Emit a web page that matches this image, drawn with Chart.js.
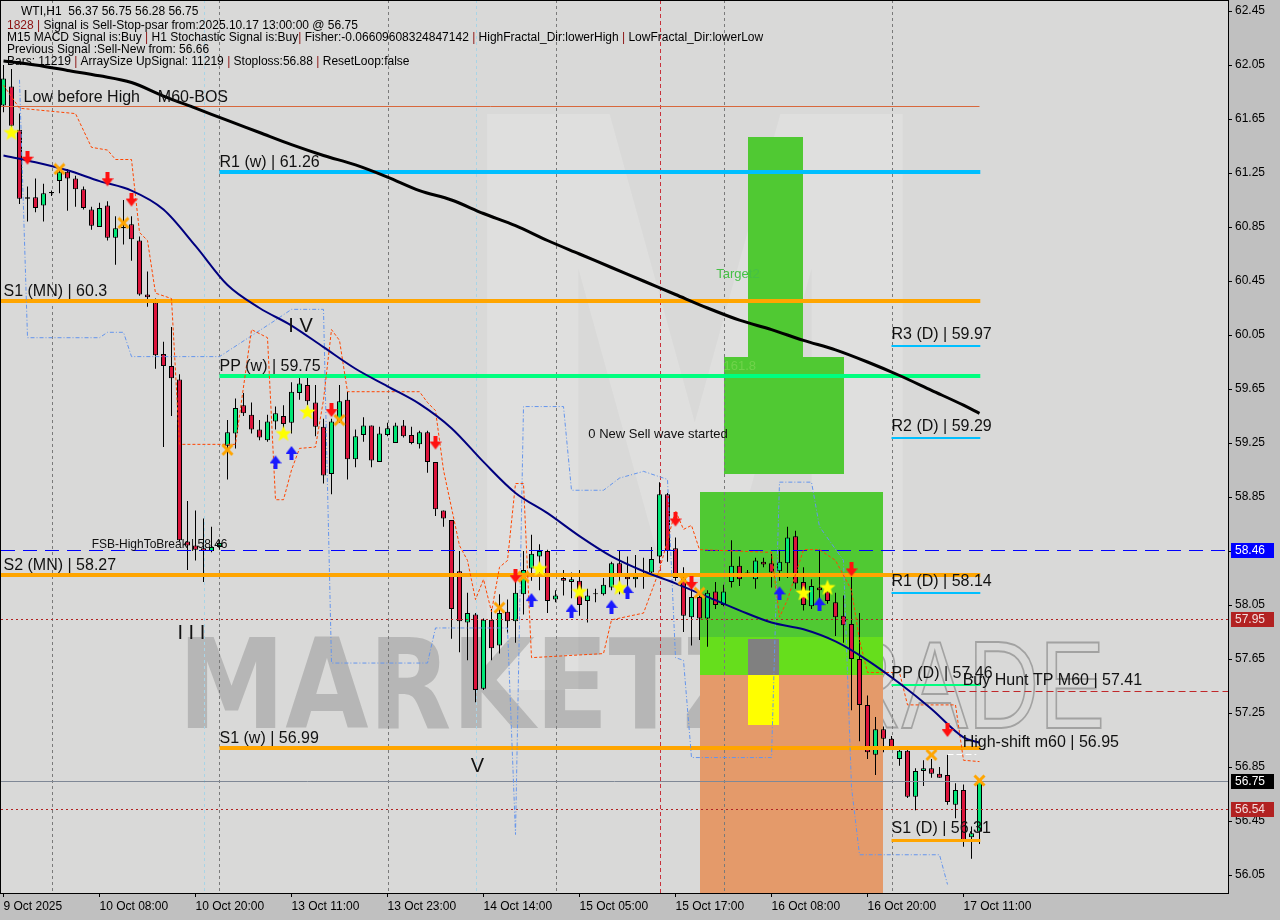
<!DOCTYPE html>
<html>
<head>
<meta charset="utf-8">
<script src="https://cdn.jsdelivr.net/npm/chart.js@4.4.1/dist/chart.umd.min.js"></script>
<style>
html, body { margin: 0; padding: 0; background: #c0c0c0; }
canvas { display: block; }
</style>
</head>
<body>
<canvas id="wti" width="1280" height="920"></canvas>
<script>
// time axis: one label every 12 H1 bars
var labelBars = [0, 12, 24, 36, 48, 60, 72, 84, 96, 108, 120];
var timeLabels = ['9 Oct 2025', '10 Oct 08:00', '10 Oct 20:00', '13 Oct 11:00', '13 Oct 23:00', '14 Oct 14:00',
  '15 Oct 05:00', '15 Oct 17:00', '16 Oct 08:00', '16 Oct 20:00', '17 Oct 11:00'];
var priceTicks = [62.45, 62.05, 61.65, 61.25, 60.85, 60.45, 60.05, 59.65, 59.25, 58.85, 58.45, 58.05, 57.65, 57.25, 56.85, 56.45, 56.05];

// WTI H1 candles (bar 0 = left edge, bar 122 = 17 Oct 13:00)
var opens = [61.75, 61.89, 61.57, 61.07, 61.07, 61.01, 61.10, 61.19, 61.26, 61.21,
  61.13, 60.98, 60.85, 61.01, 60.77, 60.84, 60.87, 60.75, 60.35, 60.29,
  59.91, 59.82, 59.72, 58.52, 58.49, 58.47, 58.45, 58.48, 59.23, 59.32,
  59.53, 59.46, 59.35, 59.27, 59.41, 59.45, 59.40, 59.62, 59.68, 59.55,
  59.37, 59.02, 59.41, 59.57, 59.13, 59.31, 59.38, 59.11, 59.31, 59.25,
  59.38, 59.31, 59.24, 59.33, 59.11, 58.75, 58.68, 58.30, 57.92, 57.98,
  57.43, 57.94, 57.75, 58.00, 57.93, 58.13, 58.32, 58.41, 58.45, 58.09,
  58.25, 58.22, 58.23, 58.08, 58.13, 58.13, 58.18, 58.36, 58.26, 58.24,
  58.27, 58.29, 58.41, 58.87, 58.47, 58.25, 57.96, 58.11, 57.95, 58.15,
  58.05, 58.22, 58.34, 58.28, 58.24, 58.37, 58.36, 58.30, 58.36, 58.56,
  58.22, 58.04, 58.18, 58.15, 58.07, 57.97, 57.91, 57.65, 57.31, 56.94,
  57.13, 57.06, 56.91, 56.97, 56.63, 56.82, 56.84, 56.80, 56.79, 56.57,
  56.68, 56.33, 56.37];
var highs = [62.05, 62.02, 61.69, 61.15, 61.21, 61.17, 61.12, 61.28, 61.28, 61.23,
  61.15, 61.00, 61.03, 61.04, 60.93, 61.05, 60.93, 60.78, 60.52, 60.32,
  60.00, 60.11, 59.76, 58.82, 58.75, 58.69, 58.63, 58.53, 59.42, 59.58,
  59.62, 59.55, 59.42, 59.46, 59.52, 59.53, 59.70, 59.74, 59.74, 59.68,
  59.43, 59.43, 59.68, 59.63, 59.35, 59.44, 59.38, 59.37, 59.40, 59.40,
  59.42, 59.37, 59.34, 59.34, 59.11, 58.75, 58.68, 58.45, 58.14, 57.99,
  57.95, 58.02, 58.13, 58.09, 58.28, 58.45, 58.57, 58.50, 58.46, 58.16,
  58.31, 58.29, 58.31, 58.17, 58.17, 58.25, 58.37, 58.45, 58.41, 58.42,
  58.40, 58.48, 58.96, 58.88, 58.55, 58.33, 58.18, 58.12, 58.16, 58.22,
  58.20, 58.53, 58.41, 58.31, 58.40, 58.40, 58.43, 58.46, 58.63, 58.60,
  58.33, 58.24, 58.46, 58.21, 58.14, 58.12, 58.36, 57.99, 57.38, 57.22,
  57.15, 57.08, 56.98, 56.98, 56.84, 56.90, 56.91, 56.85, 56.94, 56.73,
  56.72, 56.41, 56.75];
var lows = [61.70, 61.56, 61.02, 60.89, 60.96, 60.89, 61.08, 61.10, 60.97, 61.00,
  60.98, 60.83, 60.85, 60.75, 60.57, 60.72, 60.60, 60.34, 60.26, 59.80,
  59.22, 59.45, 58.52, 58.31, 58.38, 58.22, 58.44, 58.46, 58.98, 59.21,
  59.45, 59.32, 59.27, 59.26, 59.35, 59.32, 59.32, 59.57, 59.53, 59.30,
  58.95, 58.87, 59.40, 58.98, 59.07, 59.26, 59.07, 59.11, 59.30, 59.25,
  59.29, 59.24, 59.21, 59.03, 58.71, 58.63, 57.80, 57.70, 57.64, 57.33,
  57.42, 57.64, 57.69, 57.84, 57.77, 57.98, 58.23, 58.16, 57.99, 58.07,
  58.12, 58.10, 57.97, 57.92, 58.07, 58.12, 58.16, 58.13, 58.18, 58.18,
  58.17, 58.26, 58.36, 58.37, 58.23, 57.85, 57.75, 57.79, 57.74, 58.02,
  58.04, 58.18, 58.19, 58.26, 58.17, 58.33, 58.18, 58.23, 58.25, 58.17,
  58.01, 58.02, 58.07, 58.06, 57.82, 57.77, 57.27, 57.04, 56.91, 56.79,
  56.96, 56.98, 56.86, 56.62, 56.53, 56.71, 56.77, 56.77, 56.57, 56.47,
  56.26, 56.17, 56.28];
var closes = [61.95, 61.60, 61.06, 61.06, 60.99, 61.10, 61.11, 61.26, 61.21, 61.13,
  60.99, 60.86, 60.99, 60.77, 60.84, 60.85, 60.76, 60.35, 60.33, 59.90,
  59.82, 59.73, 58.53, 58.49, 58.46, 58.45, 58.48, 58.51, 59.33, 59.51,
  59.47, 59.35, 59.29, 59.41, 59.47, 59.39, 59.63, 59.69, 59.56, 59.37,
  59.01, 59.41, 59.56, 59.13, 59.30, 59.38, 59.12, 59.32, 59.36, 59.38,
  59.30, 59.25, 59.33, 59.11, 58.76, 58.69, 58.02, 57.93, 57.99, 57.42,
  57.94, 57.73, 57.99, 57.93, 58.14, 58.31, 58.43, 58.45, 58.08, 58.12,
  58.23, 58.24, 58.05, 58.12, 58.135, 58.20, 58.36, 58.28, 58.24, 58.26,
  58.275, 58.39, 58.87, 58.45, 58.25, 57.97, 58.11, 57.95, 58.14, 58.05,
  58.15, 58.34, 58.24, 58.29, 58.38, 58.35, 58.29, 58.37, 58.55, 58.21,
  58.05, 58.19, 58.16, 58.08, 57.96, 57.90, 57.65, 57.31, 56.96, 57.13,
  57.06, 56.99, 56.97, 56.63, 56.82, 56.84, 56.80, 56.77, 56.59, 56.68,
  56.31, 56.36, 56.75];

// moving averages, read every 4 bars
var maBars = [0, 4, 8, 12, 16, 20, 24, 28, 32, 36, 40, 44, 48, 52, 56, 60, 64, 68, 72, 76, 80, 84, 88, 92, 96, 100, 104, 108, 112, 116, 120, 122];
var maSlow = [62.08, 62.05, 62.01, 61.97, 61.92, 61.82, 61.73, 61.64, 61.55, 61.46, 61.38, 61.31, 61.22, 61.12, 61.05, 60.95,
  60.86, 60.75, 60.65, 60.55, 60.45, 60.35, 60.25, 60.16, 60.09, 60.01, 59.94, 59.85, 59.75, 59.64, 59.53, 59.47];
var maM60 = [61.38, 61.33, 61.27, 61.19, 61.12, 60.98, 60.71, 60.42, 60.25, 60.12, 59.96, 59.80, 59.67, 59.54, 59.36, 59.11,
  58.88, 58.73, 58.56, 58.41, 58.30, 58.21, 58.11, 58.01, 57.92, 57.87, 57.78, 57.64, 57.47, 57.28, 57.07, 57.03];

// envelope lines (corner points)
var redBandBars = [0, 2, 9, 11, 13, 14, 16, 17, 18, 19, 21, 22, 29, 31, 33, 34, 35, 36, 37, 39, 40, 41, 42, 43, 52, 53, 54, 55, 57, 58,
  59, 60, 61, 62, 63, 64, 65, 66, 75, 76, 80, 82, 83, 84, 85, 86, 87, 96, 97, 98, 100, 102, 104, 106, 107, 108, 112, 113, 119, 120, 122];
var redBand = [61.90, 61.73, 61.69, 61.44, 61.42, 61.35, 61.35, 60.81, 60.75, 60.36, 60.32, 59.24, 59.24, 60.09, 60.03, 58.83, 58.83, 59.05, 59.21, 59.22,
  59.57, 60.09, 60.01, 59.63, 59.63, 59.55, 59.49, 59.05, 58.49, 58.38, 58.09, 58.24, 58.00, 58.33, 58.38, 58.95, 58.95, 57.66, 57.69, 57.94,
  57.99, 58.31, 58.53, 58.75, 58.61, 58.64, 58.46, 58.44, 57.96, 58.09, 58.46, 58.46, 58.38, 58.16, 57.79, 57.55, 57.55, 57.31, 57.31, 56.90, 56.89];
var blueBandBars = [2, 3, 12, 13, 15, 16, 27, 34, 36, 40, 41, 53, 54, 63, 64, 65, 70, 71, 75, 77, 80, 83, 84, 85, 86, 96, 97, 101, 102, 105, 106, 107, 117, 118];
var blueBand = [61.94, 60.03, 60.03, 60.07, 60.07, 59.89, 59.89, 60.16, 60.24, 60.24, 57.62, 57.62, 57.88, 57.88, 56.35, 59.52, 59.52, 58.90, 58.90, 58.99,
  59.04, 58.98, 57.66, 57.64, 56.92, 56.92, 58.96, 58.96, 58.63, 58.38, 56.70, 56.20, 56.20, 55.98];

// signal markers
var starBars = [1, 35, 38, 67, 72, 77, 100, 103];
var starVals = [61.55, 59.32, 59.48, 58.32, 58.15, 58.18, 58.14, 58.18];
var sellBars = [3, 13, 16, 41, 54, 64, 84, 86, 106, 118];
var sellVals = [61.36, 61.20, 61.05, 59.49, 59.25, 58.26, 58.68, 58.21, 58.31, 57.12];
var buyBars = [34, 36, 66, 71, 76, 78, 97, 102];
var buyVals = [59.11, 59.18, 58.09, 58.01, 58.04, 58.15, 58.14, 58.06];
var exitBars = [7, 15, 28, 42, 62, 65, 85, 87, 116, 122];
var exitVals = [61.28, 60.88, 59.20, 59.42, 58.03, 58.26, 58.24, 58.14, 56.94, 56.75];

// pivot levels
var pivotNames = ['R1 (w)', 'PP (w)', 'S1 (w)', 'S1 (MN)', 'S2 (MN)', 'R3 (D)', 'R2 (D)', 'R1 (D)', 'PP (D)', 'S1 (D)'];
var pivotValues = [61.26, 59.75, 56.99, 60.3, 58.27, 59.97, 59.29, 58.14, 57.46, 56.31];
var pivotFrom = [27, 27, 27, 0, 0, 111, 111, 111, 111, 111];

var fsbLevel = 58.46;
var lowBeforeHigh = 61.75;
var buyHuntTP = 57.41;
var highShift = 56.95;
var lastPrice = 56.75;
var stopLevels = [57.95, 56.54];

// target zones: [fromBar, toBar, top, bottom]
var zoneFrom = [93, 90, 87, 87, 87, 93.1, 93.1];
var zoneTo = [99.9, 105, 109.9, 109.9, 109.9, 96.9, 96.9];
var zoneTop = [61.52, 59.89, 58.89, 57.81, 57.53, 57.80, 57.53];
var zoneBottom = [59.88, 59.02, 57.81, 57.53, 55.90, 57.53, 57.16];

var daySeparators = [6, 27, 48, 69, 90, 111];

// ---------- marker images ----------
function makeStar() {
  var c = document.createElement('canvas'); c.width = 18; c.height = 18;
  var g = c.getContext('2d');
  g.beginPath();
  for (var k = 0; k < 10; k++) {
    var r = k % 2 ? 3.6 : 8.5, a = -Math.PI / 2 + k * Math.PI / 5;
    g.lineTo(9 + r * Math.cos(a), 9.5 + r * Math.sin(a));
  }
  g.closePath(); g.fillStyle = '#ffff00'; g.fill();
  return c;
}
function makeArrow(color, up) {
  var c = document.createElement('canvas'); c.width = 12; c.height = 15;
  var g = c.getContext('2d');
  if (up) { g.translate(0, 15); g.scale(1, -1); }
  g.fillStyle = color;
  g.fillRect(4, 0, 4, 8);
  g.beginPath(); g.moveTo(0, 6); g.lineTo(12, 6); g.lineTo(6, 14); g.closePath(); g.fill();
  return c;
}
function makeCross() {
  var c = document.createElement('canvas'); c.width = 13; c.height = 13;
  var g = c.getContext('2d');
  g.strokeStyle = '#ffa500'; g.lineWidth = 3;
  g.beginPath(); g.moveTo(1.5, 1.5); g.lineTo(11.5, 11.5); g.moveTo(11.5, 1.5); g.lineTo(1.5, 11.5); g.stroke();
  return c;
}

function pts(xs, ys) { return xs.map(function (x, i) { return { x: x, y: ys[i] }; }); }

var bull = '#00e676', bear = '#dc143c';
var candleBodies = opens.map(function (o, i) { return { x: i, y: [o, closes[i]] }; });
var candleWicks = lows.map(function (l, i) { return { x: i, y: [l, highs[i]] }; });
var bodyColors = opens.map(function (o, i) { return closes[i] >= o ? bull : bear; });

function levelLabel(name, v) { return name + ' | ' + v; }

var overlay = {
  id: 'overlay',
  beforeDraw: function (chart) {
    var ctx = chart.ctx, a = chart.chartArea;
    ctx.save();
    ctx.fillStyle = '#c0c0c0'; ctx.fillRect(0, 0, chart.width, chart.height);
    ctx.fillStyle = '#d9d9d8'; ctx.fillRect(a.left, a.top, a.right - a.left, a.bottom - a.top);
    ctx.restore();
  },
  beforeDatasetsDraw: function (chart) {
    var ctx = chart.ctx, a = chart.chartArea;
    var X = function (v) { return chart.scales.x.getPixelForValue(v); };
    var Y = function (v) { return chart.scales.y.getPixelForValue(v); };
    ctx.save();
    ctx.beginPath(); ctx.rect(a.left, a.top, a.right - a.left, a.bottom - a.top); ctx.clip();

    // watermark
    function stretch(txt, left, right, base, font, stroke) {
      ctx.font = font;
      var w = ctx.measureText(txt).width;
      ctx.save(); ctx.translate(left, base); ctx.scale((right - left) / w, 1);
      if (stroke) ctx.strokeText(txt, 0, 0); else ctx.fillText(txt, 0, 0);
      ctx.restore();
    }
    ctx.fillStyle = 'rgba(255,255,255,0.16)';
    stretch('M', 440, 950, 690, 'bold 790px "DejaVu Sans"');
    ctx.fillStyle = 'rgba(95,95,95,0.28)';
    stretch('MARKETZ', 178, 760, 728, 'bold 125px "DejaVu Sans"');
    ctx.strokeStyle = 'rgba(95,95,95,0.45)'; ctx.lineWidth = 2;
    stretch('TRADE', 770, 1105, 728, '125px "Liberation Sans"', true);

    // target zones
    var zoneColors = ['#50c933', '#50c933', '#50c933', '#66de1c', '#e49a6a', '#808080', '#ffff00'];
    for (var i = 0; i < zoneFrom.length; i++) {
      var x0 = Math.round(X(zoneFrom[i])), x1 = Math.round(X(zoneTo[i]));
      var y0 = Math.round(Y(zoneTop[i])), y1 = Math.round(Y(zoneBottom[i]));
      ctx.fillStyle = zoneColors[i];
      ctx.fillRect(x0, y0, x1 - x0, y1 - y0);
    }

    // period separators
    ctx.lineWidth = 1;
    ctx.setLineDash([3, 3]);
    ctx.strokeStyle = '#7a7a7a';
    daySeparators.forEach(function (b) {
      var x = Math.round(X(b)) + 0.5;
      ctx.beginPath(); ctx.moveTo(x, a.top); ctx.lineTo(x, a.bottom); ctx.stroke();
    });
    ctx.strokeStyle = '#a8d4e6';
    [25, 59].forEach(function (b) {
      var x = Math.round(X(b)) + 0.5;
      ctx.beginPath(); ctx.moveTo(x, a.top); ctx.lineTo(x, a.bottom); ctx.stroke();
    });
    ctx.strokeStyle = '#c8323c'; ctx.setLineDash([4, 3]);
    var xr = Math.round(X(82)) + 0.5;
    ctx.beginPath(); ctx.moveTo(xr, a.top); ctx.lineTo(xr, a.bottom); ctx.stroke();
    ctx.restore();
  },
  afterDatasetDraw: function (chart, args) {
    if (args.index !== 1) return; // right after candle bodies
    var ctx = chart.ctx, a = chart.chartArea;
    var X = function (v) { return chart.scales.x.getPixelForValue(v); };
    var Y = function (v) { return Math.round(chart.scales.y.getPixelForValue(v)); };
    ctx.save();
    ctx.beginPath(); ctx.rect(a.left, a.top, a.right - a.left, a.bottom - a.top); ctx.clip();

    function hline(v, x0, x1, color, w, dash) {
      ctx.strokeStyle = color; ctx.lineWidth = w; ctx.setLineDash(dash || []);
      var y = Y(v) + (w % 2 ? 0.5 : 0);
      ctx.beginPath(); ctx.moveTo(x0, y); ctx.lineTo(x1, y); ctx.stroke();
    }
    hline(lowBeforeHigh, a.left, X(122), '#d8683c', 1);
    hline(fsbLevel, a.left, a.right, '#0000ff', 1, [14, 8]);
    hline(stopLevels[0], a.left, a.right, '#b22222', 1, [2, 3]);
    hline(stopLevels[1], a.left, a.right, '#b22222', 1, [2, 3]);
    hline(lastPrice, a.left, a.right, '#7f8896', 1);
    hline(buyHuntTP, X(118), a.right, '#c0282a', 1, [7, 4]);
    hline(highShift, X(118), X(121.6), '#ffffff', 1, [6, 3]);

    for (var i = 0; i < pivotNames.length; i++) {
      var n = pivotNames[i];
      var col = n.charAt(0) === 'R' ? '#00bfff' : (n.charAt(0) === 'P' ? '#00ff7f' : '#ffa500');
      var daily = n.indexOf('(D)') >= 0;
      var x0 = pivotFrom[i] === 0 ? a.left : X(pivotFrom[i]);
      hline(pivotValues[i], x0, X(122.1), col, daily ? (n.charAt(0) === 'S' ? 3 : 2) : 4);
    }
    ctx.restore();
  },
  afterDatasetsDraw: function (chart) {
    var ctx = chart.ctx, a = chart.chartArea;
    var X = function (v) { return chart.scales.x.getPixelForValue(v); };
    var Y = function (v) { return chart.scales.y.getPixelForValue(v); };
    ctx.save();
    ctx.beginPath(); ctx.rect(a.left, a.top, a.right - a.left, a.bottom - a.top); ctx.clip();
    ctx.textBaseline = 'alphabetic';
    ctx.fillStyle = '#111';
    ctx.font = '16px "Liberation Sans"';
    for (var i = 0; i < pivotNames.length; i++) {
      var daily = pivotNames[i].indexOf('(D)') >= 0;
      var x0 = pivotFrom[i] === 0 ? X(0) : X(pivotFrom[i]);
      ctx.fillText(levelLabel(pivotNames[i], pivotValues[i]), x0, Y(pivotValues[i]) - (daily ? 7 : 5));
    }
    ctx.fillText('Low before High    M60-BOS', X(2.5), Y(lowBeforeHigh) - 4);
    ctx.fillText(levelLabel('Buy Hunt TP M60', buyHuntTP), X(119.9), Y(buyHuntTP) - 6);
    ctx.fillText(levelLabel('High-shift m60', highShift), X(119.9), Y(highShift) - 7);

    ctx.font = '20px "Liberation Sans"';
    ctx.fillText('I V', X(35.6), Y(60.07));
    ctx.fillText('I I I', X(21.75), Y(57.80));
    ctx.fillText('V', X(58.4), Y(56.81));

    ctx.font = '12px "Liberation Sans"';
    ctx.textAlign = 'right';
    ctx.fillText(levelLabel('FSB-HighToBreak', fsbLevel), X(28), Y(fsbLevel) - 2);
    ctx.textAlign = 'left';
    ctx.font = '13px "Liberation Sans"';
    ctx.fillText('0 New Sell wave started', X(73.1), Y(59.29));
    ctx.fillStyle = '#46c046';
    ctx.fillText('Target2', X(89.1), Y(60.47));
    ctx.fillStyle = '#6fd34a';
    ctx.fillText('161.8', X(90), Y(59.79));

    // info panel
    ctx.font = '12px "Liberation Sans"';
    var info = [
      ['WTI,H1  56.37 56.75 56.28 56.75', 21, 15],
      ['1828 | Signal is Sell-Stop-psar from:2025.10.17 13:00:00 @ 56.75', 7, 29],
      ['M15 MACD Signal is:Buy | H1 Stochastic Signal is:Buy| Fisher:-0.06609608324847142 | HighFractal_Dir:lowerHigh | LowFractal_Dir:lowerLow', 7, 41],
      ['Previous Signal :Sell-New from: 56.66', 7, 53],
      ['Bars: 11219 | ArraySize UpSignal: 11219 | Stoploss:56.88 | ResetLoop:false', 7, 65]
    ];
    info.forEach(function (row, r) {
      var parts = row[0].split('|'), x = row[1];
      parts.forEach(function (p, k) {
        if (k > 0) { ctx.fillStyle = '#8b1010'; ctx.fillText('|', x, row[2]); x += ctx.measureText('|').width; }
        ctx.fillStyle = (r === 1 && k === 0) ? '#8b1010' : '#000';
        ctx.fillText(p, x, row[2]); x += ctx.measureText(p).width;
      });
    });
    ctx.restore();
  },
  afterDraw: function (chart) {
    var ctx = chart.ctx, a = chart.chartArea;
    var Y = function (v) { return Math.round(chart.scales.y.getPixelForValue(v)); };
    ctx.save();
    ctx.strokeStyle = '#000'; ctx.lineWidth = 1;
    ctx.strokeRect(a.left - 0.5, a.top + 0.5, a.right - a.left + 1, a.bottom - a.top);
    function tag(v, bg, fg) {
      var y = Y(v);
      ctx.fillStyle = bg; ctx.fillRect(a.right + 3, y - 7, 43, 15);
      ctx.fillStyle = fg; ctx.font = '12px "Liberation Sans"'; ctx.textBaseline = 'middle';
      ctx.fillText(v.toFixed(2), a.right + 7, y + 1);
    }
    tag(fsbLevel, '#0000ff', '#ffffff');
    tag(stopLevels[0], '#b22222', '#f4dede');
    tag(lastPrice, '#000000', '#ffffff');
    tag(stopLevels[1], '#b22222', '#f4dede');
    ctx.restore();
  }
};

Chart.defaults.font.family = '"Liberation Sans", Arial, sans-serif';
Chart.defaults.font.size = 12;
Chart.defaults.color = '#000';

var ctx = document.getElementById('wti');
var wtiChart = new Chart(ctx, {
  type: 'bar',
  data: {
    datasets: [
      {
        label: 'wick',
        data: candleWicks,
        backgroundColor: '#000',
        barThickness: 1,
        grouped: false,
        inflateAmount: 0,
        order: 6
      },
      {
        label: 'body',
        data: candleBodies,
        backgroundColor: bodyColors,
        borderColor: '#000',
        borderWidth: 1,
        borderSkipped: false,
        barThickness: 5,
        minBarLength: 1,
        grouped: false,
        inflateAmount: 0,
        order: 5
      },
      {
        type: 'line', label: 'MA slow', data: pts(maBars, maSlow),
        borderColor: '#000', borderWidth: 3, pointRadius: 0, cubicInterpolationMode: 'monotone', order: 4
      },
      {
        type: 'line', label: 'MA 60', data: pts(maBars, maM60),
        borderColor: '#00007f', borderWidth: 2, pointRadius: 0, cubicInterpolationMode: 'monotone', order: 4
      },
      {
        type: 'line', label: 'upper band', data: pts(redBandBars, redBand),
        borderColor: '#ff4500', borderWidth: 1, borderDash: [3, 2], pointRadius: 0, tension: 0, order: 4
      },
      {
        type: 'line', label: 'lower band', data: pts(blueBandBars, blueBand),
        borderColor: '#6495ed', borderWidth: 1, borderDash: [4, 2, 1, 2], pointRadius: 0, tension: 0, order: 4
      },
      {
        type: 'line', label: 'star', data: pts(starBars, starVals), showLine: false,
        pointStyle: makeStar(), pointRadius: 6, order: 1
      },
      {
        type: 'line', label: 'sell', data: pts(sellBars, sellVals), showLine: false,
        pointStyle: makeArrow('#ff1010', false), pointRadius: 6, order: 1
      },
      {
        type: 'line', label: 'buy', data: pts(buyBars, buyVals), showLine: false,
        pointStyle: makeArrow('#1a1aff', true), pointRadius: 6, order: 1
      },
      {
        type: 'line', label: 'exit', data: pts(exitBars, exitVals), showLine: false,
        pointStyle: makeCross(), pointRadius: 6, order: 1
      }
    ]
  },
  options: {
    responsive: false,
    animation: false,
    events: [],
    layout: { autoPadding: false, padding: { left: 1, top: 0, right: 0, bottom: 0 } },
    plugins: { legend: { display: false }, tooltip: { enabled: false } },
    scales: {
      x: {
        type: 'linear',
        offset: false,
        min: -0.3125,
        max: 153.0625,
        afterFit: function (s) { s.height = 27; s.paddingLeft = 0; s.paddingRight = 0; },
        afterBuildTicks: function (s) { s.ticks = labelBars.map(function (v) { return { value: v }; }); },
        ticks: {
          autoSkip: false, maxRotation: 0, align: 'start', padding: 2,
          callback: function (v) { return timeLabels[labelBars.indexOf(v)]; }
        },
        grid: { offset: false, drawOnChartArea: false, tickLength: 4, color: '#000' },
        border: { display: true, color: '#000' }
      },
      y: {
        position: 'right',
        min: 55.9167,
        max: 62.5315,
        beginAtZero: false,
        afterFit: function (s) { s.width = 52; s.paddingTop = 0; s.paddingBottom = 0; },
        afterBuildTicks: function (s) { s.ticks = priceTicks.map(function (v) { return { value: v }; }); },
        ticks: { padding: 3, callback: function (v) { return v.toFixed(2); } },
        grid: { drawOnChartArea: false, tickLength: 4, color: '#000' },
        border: { display: true, color: '#000' }
      }
    }
  },
  plugins: [overlay]
});
</script>
</body>
</html>
